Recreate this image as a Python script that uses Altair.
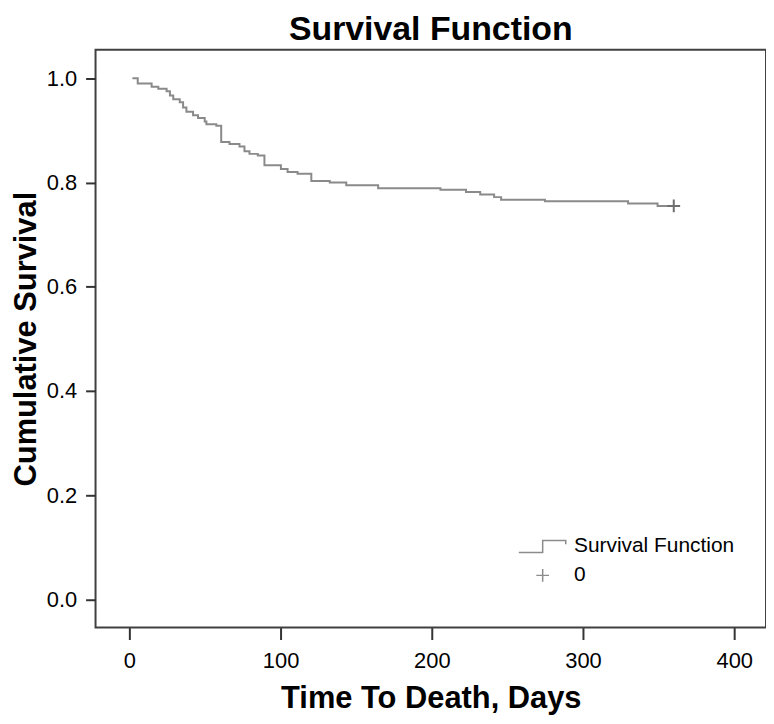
import altair as alt
import pandas as pd

# Kaplan-Meier step curve
times = [2, 5.5, 14.7, 19.1, 24.6, 26.8, 29, 33.3, 35.5, 37.7, 42.1, 45.4, 49.8, 50.9,
         57.5, 60.7, 66.2, 72.8, 76.1, 79.4, 84.9, 89.3, 100.2, 104.6, 111.2, 120.3,
         132.5, 143.4, 164.5, 205.7, 222.6, 232, 241.2, 245.8, 274.8, 329.8, 349.3, 360]
surv = [1.0, 0.990, 0.984, 0.980, 0.975, 0.967, 0.960, 0.954, 0.944, 0.936, 0.929, 0.924,
        0.917, 0.912, 0.909, 0.878, 0.874, 0.869, 0.860, 0.855, 0.852, 0.833, 0.826, 0.820,
        0.817, 0.803, 0.800, 0.795, 0.789, 0.786, 0.782, 0.777, 0.772, 0.767, 0.764, 0.760,
        0.755, 0.755]

censor_time = [360]
censor_surv = [0.755]
censor_series = ["0"]

legend_labels = ["Survival Function", "0"]
x_ticks = [0, 100, 200, 300, 400]
y_ticks = [0.0, 0.2, 0.4, 0.6, 0.8, 1.0]

step_path = "M-3,0.75H0V-0.75H2.9V-0.3"
cross_path = "M-0.8,0H0.8M0,-0.8V0.8"

FONT = "Liberation Sans"

curve = pd.DataFrame({"t": times, "s": surv})
cens = pd.DataFrame({"t": censor_time, "s": censor_surv, "series": censor_series})

xs = alt.Scale(domain=[-22.4, 421], nice=False, zero=False)
ys = alt.Scale(domain=[-0.054, 1.055], nice=False, zero=False)

line = alt.Chart(curve).mark_line(
    interpolate="step-after", color="#8a8a8a", strokeWidth=2
).encode(
    x=alt.X("t:Q", scale=xs,
            axis=alt.Axis(values=x_ticks, title="Time To Death, Days", tickSize=12,
                          labelPadding=11, titlePadding=12)),
    y=alt.Y("s:Q", scale=ys,
            axis=alt.Axis(values=y_ticks, format=".1f", title="Cumulative Survival",
                          tickSize=10, labelPadding=9, titlePadding=4)),
)

pts = alt.Chart(cens).mark_point(
    filled=False, size=256, color="#6e6e6e", strokeWidth=2, opacity=1
).encode(
    x=alt.X("t:Q", scale=xs),
    y=alt.Y("s:Q", scale=ys),
    shape=alt.Shape(
        "series:N",
        scale=alt.Scale(domain=legend_labels, range=[step_path, cross_path]),
        sort=legend_labels,
        legend=alt.Legend(
            title=None, orient="none", legendX=439, legendY=489, padding=0,
            symbolSize=256, symbolStrokeWidth=1.5, symbolStrokeColor="#8c8c8c",
            symbolFillColor="transparent", labelOffset=21, rowPadding=7,
            labelFont=FONT, labelFontSize=21, labelColor="#000000", labelLimit=400,
        ),
    ),
)

chart = alt.layer(line, pts).properties(
    width=674,
    height=581,
    title=alt.TitleParams("Survival Function", font=FONT, fontSize=34, fontWeight="bold",
                          color="#000000", anchor="middle", frame="group", offset=3),
    padding={"left": 2, "top": 3, "right": 0, "bottom": 0},
).configure_view(
    stroke="#404040", strokeWidth=2
).configure_axis(
    domain=False, grid=False, tickColor="#333333", tickWidth=2,
    labelFont=FONT, labelFontSize=22, labelColor="#000000",
    titleFont=FONT, titleFontSize=31, titleFontWeight="bold", titleColor="#000000",
)

chart.save("out.html", embed_options={"renderer": "svg", "actions": False})
